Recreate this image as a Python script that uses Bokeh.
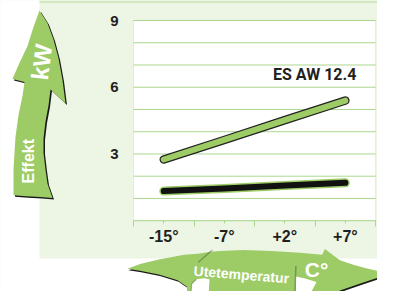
from bokeh.plotting import figure
from bokeh.models import (Range1d, LinearAxis, FixedTicker, BoxAnnotation,
                          PolyAnnotation, Label)
from bokeh.embed import file_html
from bokeh.resources import INLINE

# ---- data ----
temps = ["-15°", "-7°", "+2°", "+7°"]
heat_output_kw = [2.75, 3.63, 4.52, 5.4]
power_input_kw = [1.33, 1.45, 1.58, 1.70]
y_tick_values = [3, 6, 9]
y_grid_values = [0, 1, 2, 3, 4, 5, 6, 7, 8, 9]
y_max = 9
series_label = "ES AW 12.4"
y_title = "Effekt"
y_unit = "kW"
x_title = "Utetemperatur"
x_unit = "C°"

n = len(temps)
x_pos = [i + 0.5 for i in range(n)]      # category centres
x_bounds = list(range(n + 1))            # category boundaries

W, H = 377, 291
REF_W, REF_H = 393, 307

GREEN = "#9dcc66"
PANEL = "#edf5e5"
PANEL_EDGE = "#d3e8c0"
GRID = "#acd68e"
DARK = "#231f20"
FONT = "Liberation Sans"

# reference-layout pixel -> canvas pixel (keeps top-left, squeezes the rest)
def fx(r):
    return r if r <= 133 else 133 + (r - 133) * (W - 133) / (REF_W - 133)

def fy(r):
    return r if r <= 20 else 20 + (r - 20) * (H - 20) / (REF_H - 20)

# plot area in canvas pixels
PL, PR, PT, PB = fx(133), fx(391), fy(20), fy(232)
ux = (PR - PL) / n
uy = (PB - PT) / y_max

p = figure(width=W, height=H,
           x_range=Range1d(-PL / ux, n + (W - PR) / ux),
           y_range=Range1d(-(H - PB) / uy, y_max + PT / uy),
           x_axis_type=None, y_axis_type=None,
           output_backend="svg", toolbar_location=None,
           min_border=0)
p.xgrid.visible = False
p.ygrid.visible = False
p.background_fill_color = PANEL
p.border_fill_color = PANEL
p.outline_line_color = None

# ---- decorations helpers ----
def poly(pts, fill, line=None, lw=1, dx=0.0, dy=0.0, level="annotation"):
    p.add_layout(PolyAnnotation(xs=[fx(x) + dx for x, _ in pts],
                                ys=[fy(y) + dy for _, y in pts],
                                xs_units="canvas", ys_units="canvas",
                                fill_color=fill, fill_alpha=1 if fill else 0,
                                line_color=line, line_width=lw, level=level))

# white page outside the light panel, panel top edge
poly([(-5, -5), (39, -5), (39, 272), (400, 272), (400, 320), (-5, 320)], "white",
     level="image")
poly([(39, 0), (400, 0), (400, 2.5), (39, 2.5)], PANEL_EDGE, level="image")

# white plot area with green outline
p.add_layout(BoxAnnotation(left=0, right=n, bottom=0, top=y_max,
                           fill_color="white", fill_alpha=1,
                           line_color=GRID, line_width=1, level="image"))

# horizontal grid lines, one per kW
p.segment(x0=[0] * len(y_grid_values), y0=y_grid_values,
          x1=[n] * len(y_grid_values), y1=y_grid_values,
          line_color=GRID, line_width=1)

# ---- axes ----
xaxis = LinearAxis(
    fixed_location=0,
    ticker=FixedTicker(ticks=x_pos, minor_ticks=x_bounds),
    major_label_overrides={x: t for x, t in zip(x_pos, temps)},
)
xaxis.axis_line_color = None
xaxis.major_tick_line_color = GRID
xaxis.major_tick_out = 3
xaxis.major_tick_in = 0
xaxis.minor_tick_line_color = GRID
xaxis.minor_tick_out = 6
xaxis.minor_tick_in = 0
xaxis.major_label_standoff = 1
xaxis.major_label_text_font = FONT
xaxis.major_label_text_font_style = "bold"
xaxis.major_label_text_font_size = "16px"
xaxis.major_label_text_color = DARK
p.add_layout(xaxis, "below")

yaxis = LinearAxis(fixed_location=0, ticker=FixedTicker(ticks=y_tick_values))
yaxis.axis_line_color = None
yaxis.major_tick_line_color = None
yaxis.major_tick_out = 0
yaxis.major_tick_in = 0
yaxis.minor_tick_line_color = None
yaxis.major_label_standoff = 15
yaxis.major_label_text_font = FONT
yaxis.major_label_text_font_style = "bold"
yaxis.major_label_text_font_size = "15px"
yaxis.major_label_text_color = DARK
p.add_layout(yaxis, "left")

# ---- data lines ----
p.line(x_pos, heat_output_kw, line_width=8.5, line_color="#222222",
       line_cap="round", line_join="round")
p.line(x_pos, heat_output_kw, line_width=6, line_color=GREEN,
       line_cap="round", line_join="round")
p.line(x_pos, power_input_kw, line_width=9, line_color=GREEN,
       line_cap="round", line_join="round")
p.line(x_pos, power_input_kw, line_width=6, line_color="#111111",
       line_cap="round", line_join="round")

p.add_layout(Label(x=x_pos[-1], y=6.55,
                   text=series_label, x_offset=11,
                   text_align="right", text_baseline="middle",
                   text_font="Roboto", text_font_style="bold",
                   text_font_size="16px", text_color=DARK))

# ---- arrows ----
left_arrow = [(39, 10), (47, 23), (53, 40), (58, 60), (62, 83), (65, 108),
              (57, 100), (50, 93), (48, 110), (45, 127), (43, 145), (43, 160),
              (45, 178), (47, 193), (52, 208), (40, 207), (26, 206), (13, 205),
              (13, 190), (13, 177), (14, 160), (15, 143), (18, 120), (22, 100),
              (24, 85), (12, 82), (18, 67), (27, 47), (33, 27)]
poly(left_arrow, "#1a1a1a", dx=1.5, dy=1.5)
poly(left_arrow, GREEN)

bottom_arrow = [(127, 283), (140, 278), (160, 273), (187, 268), (202, 267),
                (215, 265), (225, 264), (250, 263), (280, 264), (310, 266),
                (334, 268), (337, 262), (345, 268), (353, 274), (368, 279),
                (383, 283), (398, 286), (398, 291), (385, 295), (370, 300),
                (353, 306), (345, 312), (190, 312), (190, 302), (180, 295),
                (160, 289), (140, 285)]
poly(bottom_arrow, "#1a1a1a", dx=1, dy=1.5)
poly(bottom_arrow, GREEN)
poly([(194, 312), (195, 299), (200, 294), (208, 293), (214, 294), (213, 312)],
     "white")
poly([(194, 312), (195, 299), (200, 294), (195, 299)], None, line="#1a1a1a", lw=1.2)
poly([(306, 312), (306, 291), (315, 293), (328, 297), (320, 312)], "white")
poly([(306, 280), (305, 312)], None, line="#1a1a1a", lw=1.5)
poly([(202, 276), (217, 263)], None, line="#1a1a1a", lw=1.5)

def label(text, rx, ry, size, angle=0.0):
    p.add_layout(Label(x=fx(rx), y=fy(ry), x_units="canvas", y_units="canvas",
                       text=text, angle=angle, text_align="center",
                       text_baseline="middle", text_font=FONT,
                       text_font_style="bold", text_font_size=size,
                       text_color="white"))

label(y_unit, 41, 64, "24px", angle=1.45)
label(y_title, 28, 169, "16px", angle=1.5708)
label(x_title, 248, 289, "14px", angle=-0.08)
label(x_unit, 328, 284, "21px")

open("out.html", "w").write(file_html(p, INLINE))
